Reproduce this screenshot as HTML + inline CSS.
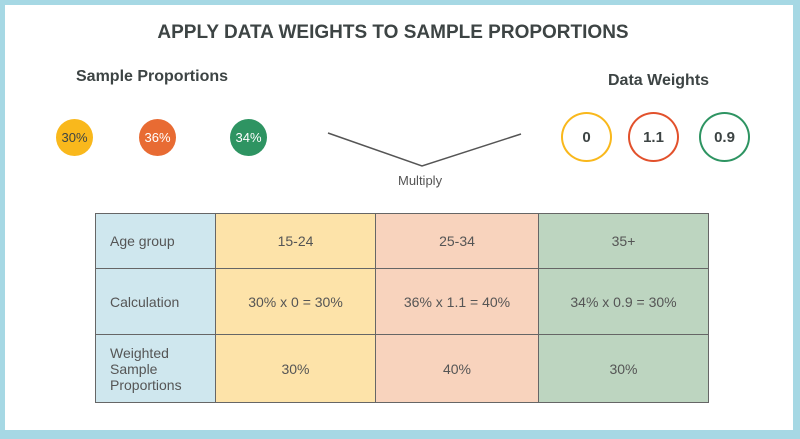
<!DOCTYPE html>
<html><head><meta charset="utf-8"><style>
body{margin:0;width:800px;height:439px;background:#a6d8e4;font-family:"Liberation Sans",sans-serif;overflow:hidden}
#panel{position:absolute;left:5px;top:5px;width:788px;height:425px;background:#fff}
.t{position:absolute;color:#3d4444;white-space:nowrap}
.c{position:absolute;border-radius:50%;display:flex;align-items:center;justify-content:center;box-sizing:border-box;color:#3d4444}
table{position:absolute;left:95px;top:213px;border-collapse:collapse;font-size:14px;color:#555}
td{border:1.5px solid #666;text-align:center;padding:0}
td.h{background:#cfe7ee;text-align:left;padding-left:14px;width:105px}
</style></head><body>
<div id="panel"></div>
<div class="t" style="left:0;width:786px;text-align:center;top:22px;font-size:19px;font-weight:bold">APPLY DATA WEIGHTS TO SAMPLE PROPORTIONS</div>
<div class="t" style="left:76px;top:68px;font-size:16px;font-weight:bold">Sample Proportions</div>
<div class="t" style="left:608px;top:72px;font-size:16px;font-weight:bold">Data Weights</div>
<div class="c" style="left:56px;top:119px;width:37px;height:37px;background:#f9b81c;font-size:13px">30%</div>
<div class="c" style="left:139px;top:119px;width:37px;height:37px;background:#e86b33;color:#fff;font-size:13px">36%</div>
<div class="c" style="left:230px;top:119px;width:37px;height:37px;background:#2e9462;color:#fff;font-size:13px">34%</div>
<div class="c" style="left:561px;top:112px;width:51px;height:50px;border:2px solid #f9b81c;font-size:15px;font-weight:bold">0</div>
<div class="c" style="left:628px;top:112px;width:51px;height:50px;border:2px solid #e2512c;font-size:15px;font-weight:bold">1.1</div>
<div class="c" style="left:699px;top:112px;width:51px;height:50px;border:2px solid #2e9462;font-size:15px;font-weight:bold">0.9</div>
<svg style="position:absolute;left:0;top:0" width="800" height="439"><polyline points="328,133 422,166 521,134" fill="none" stroke="#555" stroke-width="1.5"/></svg>
<div class="t" style="left:398px;top:173px;font-size:13px;color:#555">Multiply</div>
<table>
<tr style="height:55px"><td class="h">Age group</td><td style="width:159px;background:#fde3a9">15-24</td><td style="width:162px;background:#f8d3bd">25-34</td><td style="width:169px;background:#bdd5c0">35+</td></tr>
<tr style="height:66px"><td class="h">Calculation</td><td style="background:#fde3a9">30% x 0 = 30%</td><td style="background:#f8d3bd">36% x 1.1 = 40%</td><td style="background:#bdd5c0">34% x 0.9 = 30%</td></tr>
<tr style="height:68px"><td class="h" style="line-height:16px">Weighted<br>Sample<br>Proportions</td><td style="background:#fde3a9">30%</td><td style="background:#f8d3bd">40%</td><td style="background:#bdd5c0">30%</td></tr>
</table>
</body></html>
